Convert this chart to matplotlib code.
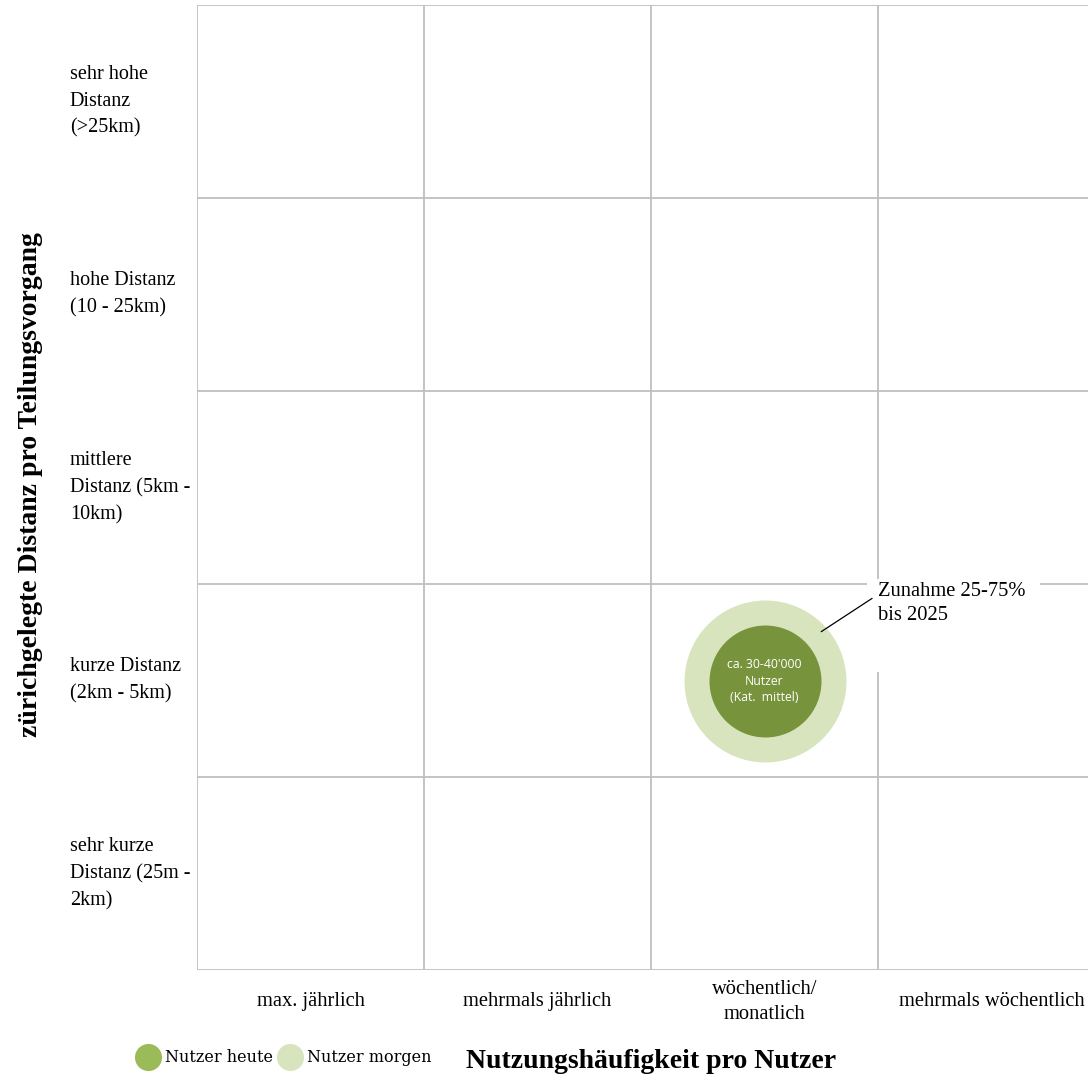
import matplotlib.pyplot as plt
from matplotlib.lines import Line2D
from matplotlib.patches import Rectangle

# Kategorien
haeufigkeit = ["max. jährlich", "mehrmals jährlich", "wöchentlich/\nmonatlich", "mehrmals wöchentlich"]
distanz = ["sehr kurze\nDistanz (25m -\n2km)", "kurze Distanz\n(2km - 5km)", "mittlere\nDistanz (5km -\n10km)",
           "hohe Distanz\n(10 - 25km)", "sehr hohe\nDistanz\n(>25km)"]

# Blase: Spalte / Zeile (Index), Durchmesser in pt
blase_x = [2]
blase_y = [1]
d_heute = [80.6]
d_morgen = [116.6]
blase_text = "ca. 30-40'000\nNutzer\n(Kat.  mittel)"
notiz = "Zunahme 25-75%\nbis 2025"

c_heute = "#77933C"
c_morgen = "#D7E4BD"
c_legende_heute = "#9BBB59"
c_grid = "#BFBFBF"

serif = "Liberation Serif"

W, H = 1088, 1079
fig = plt.figure(figsize=(W / 100, H / 100), dpi=100)
# Raster: Spaltenbreite 227 px, Zeilenhöhe 193 px, rechter Rand abgeschnitten
x0, y0, y1 = 197, 5, 970
ax = fig.add_axes([x0 / W, 1 - y1 / H, (W - x0) / W, (y1 - y0) / H])
ax.set_xlim(0, (W - x0) / 227)
ax.set_ylim(0, len(distanz))
ax.axis("off")

for i in range(len(haeufigkeit) + 1):
    ax.axvline(i, color=c_grid, lw=1.3, zorder=1)
for j in range(len(distanz) + 1):
    ax.axhline(j, color=c_grid, lw=1.3, zorder=1)

# Kasten hinter der Notiz
ax.add_patch(Rectangle((2.952, 1.544), 0.762, 0.48, facecolor="white", edgecolor="none", zorder=2))

bx = [x + 0.5 for x in blase_x]
by = [y + 0.5 for y in blase_y]
ax.scatter(bx, by, s=[d ** 2 for d in d_morgen], color=c_morgen, linewidths=0, zorder=3)
ax.scatter(bx, by, s=[d ** 2 for d in d_heute], color=c_heute, linewidths=0, zorder=4)
ax.text(bx[0], by[0] - 0.005, blase_text, color="white", fontsize=8.8, family="Open Sans",
        ha="center", va="center", linespacing=1.35, zorder=5)

ax.annotate(notiz, xy=(2.75, 1.753), xytext=(3.0, 2.01), textcoords="data",
            fontsize=14.8, family=serif, ha="left", va="top", linespacing=1.35,
            arrowprops=dict(arrowstyle="-", color="black", lw=0.9, shrinkA=0, shrinkB=0,
                            relpos=(-0.04, 0.62)),
            zorder=6)

for i, lab in enumerate(haeufigkeit):
    ax.text(i + 0.5, -0.165, lab, fontsize=14.8, family=serif, ha="center", va="center",
            linespacing=1.45, clip_on=False)
for j, lab in enumerate(distanz):
    ax.text(-0.56, j + 0.5, lab, fontsize=14.5, family=serif, ha="left", va="center",
            linespacing=1.55, clip_on=False)

fig.text(651 / W, 1 - 1062 / H, "Nutzungshäufigkeit pro Nutzer", fontsize=20, family=serif,
         fontweight="bold", ha="center", va="center")
fig.text(31 / W, 1 - 485 / H, "zürichgelegte Distanz pro Teilungsvorgang", fontsize=20, family=serif,
         fontweight="bold", ha="center", va="center", rotation=90)

handles = [Line2D([], [], ls="none", marker="o", ms=19.5, mfc=c_legende_heute, mec="none"),
           Line2D([], [], ls="none", marker="o", ms=19.5, mfc=c_morgen, mec="none")]
fig.legend(handles, ["Nutzer heute", "Nutzer morgen"], loc="center left",
           bbox_to_anchor=(140 / W, 1 - 1058 / H), ncol=2, frameon=False,
           handlelength=1.0, handletextpad=0.55, columnspacing=0.6, borderpad=0,
           borderaxespad=0, prop=dict(family="DejaVu Serif", size=11.5))

fig.savefig("out.png", dpi=100)
